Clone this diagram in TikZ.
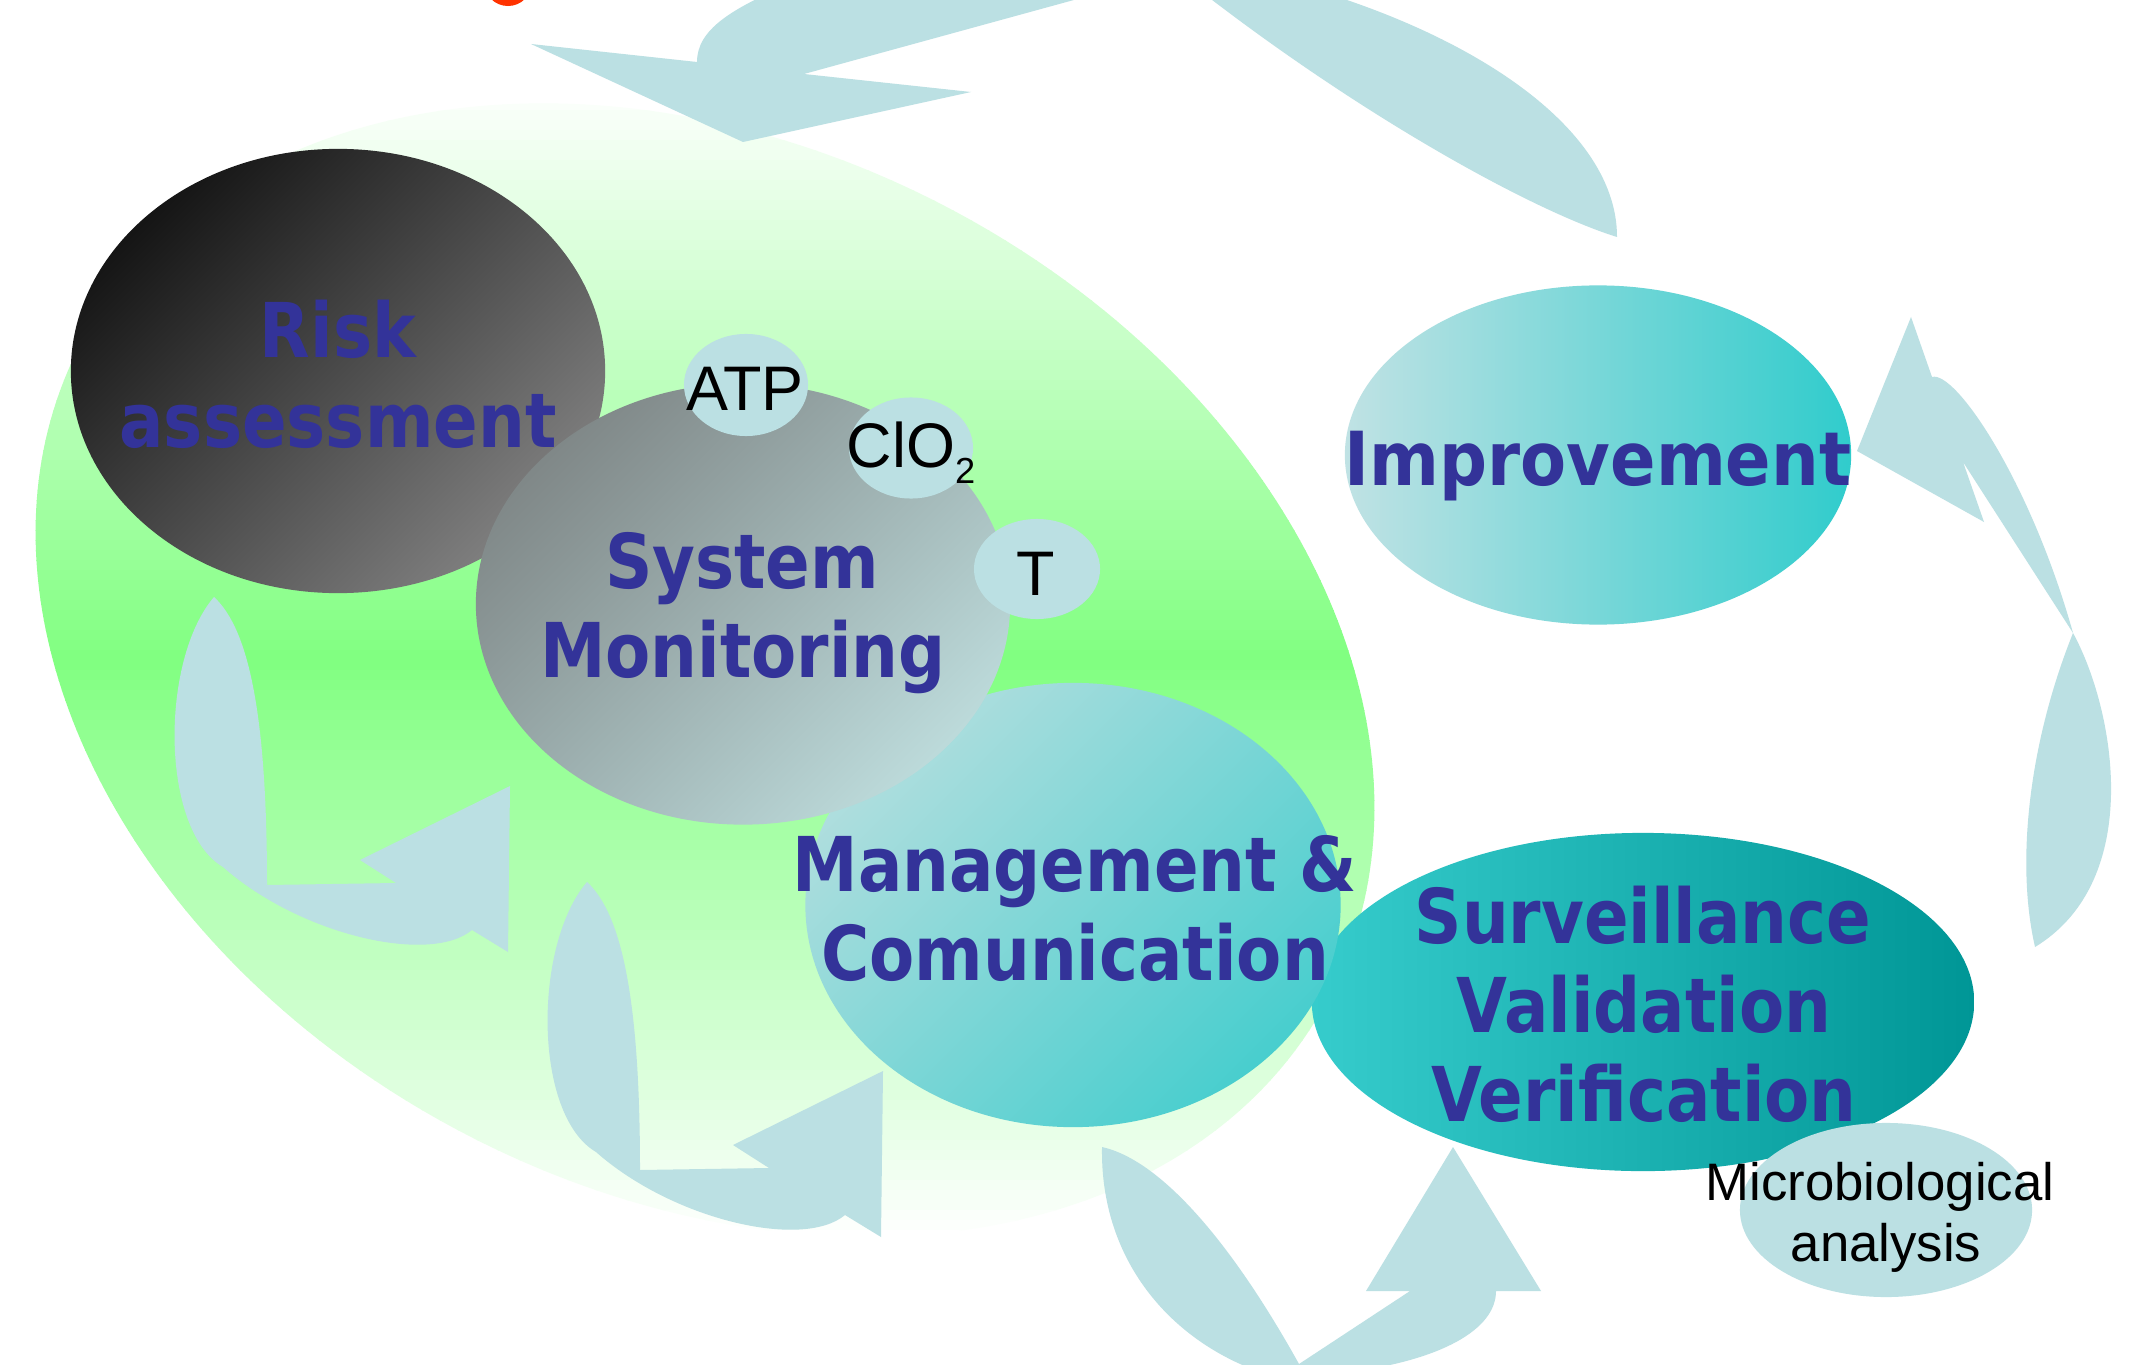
\documentclass[tikz,border=0pt]{standalone}
\usepackage{fontspec}
\usetikzlibrary{shapes.geometric}
\newfontfamily\lblfont[FakeStretch=0.87]{DejaVu Sans Bold}
\newfontfamily\impfont[FakeStretch=0.9]{DejaVu Sans Bold}
\newfontfamily\smfont{Liberation Sans}
\definecolor{arrowblue}{HTML}{BBE0E3}
\definecolor{txtblue}{HTML}{333399}
\definecolor{brightgreen}{HTML}{80FF80}
\definecolor{riskTL}{HTML}{151515}
\definecolor{riskBR}{HTML}{808080}
\definecolor{smTL}{HTML}{808888}
\definecolor{smBR}{HTML}{BCDADA}
\definecolor{mgTL}{HTML}{B0DEDE}
\definecolor{mgBR}{HTML}{48CECE}
\definecolor{impL}{HTML}{C0E2E4}
\definecolor{impR}{HTML}{30CCCC}
\definecolor{svL}{HTML}{36CCCC}
\definecolor{svR}{HTML}{009696}
\definecolor{reddot}{HTML}{FF3300}
\tikzset{
  arrowfill/.style={fill=arrowblue},
  blob/.style={ellipse, inner sep=0pt, draw=none},
  smallblob/.style={blob, fill=arrowblue},
  lbl/.style={font=\lblfont\fontsize{21.5}{25}\selectfont, text=txtblue, inner sep=0pt, anchor=base},
  implbl/.style={font=\impfont\fontsize{21.2}{25}\selectfont, text=txtblue, inner sep=0pt, anchor=base},
  sml/.style={font=\smfont\fontsize{17.9}{20}\selectfont, text=black, inner sep=0pt, anchor=base},
  micro/.style={font=\smfont\fontsize{15}{17}\selectfont, text=black, inner sep=0pt, anchor=base},
  pics/curlarrow/.style={code={
    \fill[arrowfill] (214,597) .. controls (250,630) and (267,720) .. (267,885)
      -- (396,883) -- (360,860) -- (510,786) -- (508,952) -- (472,930)
      .. controls (430,965) and (300,935) .. (223,867)
      .. controls (160,830) and (160,660) .. (214,597)
      -- cycle;
  }}
}
\begin{document}
\begin{tikzpicture}[x=0.01cm, y=-0.01cm]
\useasboundingbox (0,0) rectangle (2134,1364);
\clip (0,0) rectangle (2134,1364);
\fill[white] (0,0) rectangle (2134,1364);

% red blob at top edge
\fill[reddot] (508,-18) circle (0.24cm);

% green background ellipse with vertical white-green-white gradient
\begin{scope}
  \clip[rotate around={-27.7:(705,670)}] (705,670) ellipse (7.04cm and 5.22cm);
  \foreach \i in {0,...,118} {
    \pgfmathtruncatemacro\pc{max(0,100-abs(95+\i*10-670)/5.8)}
    \fill[brightgreen!\pc!white] (0,{80+\i*10}) rectangle (1420,{91+\i*10});
  }
\end{scope}

% top-left arrow
\fill[arrowfill] (531,44) -- (697,62)
  .. controls (697,30) and (730,8) .. (800,-20)
  -- (1165,-25) -- (804,74) -- (971,92) -- (743,142) -- cycle;

% top-right tail
\fill[arrowfill] (1260,-25) .. controls (1450,20) and (1617,120) .. (1617,237)
  .. controls (1530,210) and (1350,110) .. (1180,-25) -- cycle;

% right arrow (towards Improvement)
\fill[arrowfill] (1911,317) -- (1932,377)
  .. controls (1955,370) and (2030,480) .. (2073,633)
  .. controls (2115,710) and (2145,880) .. (2035,947)
  .. controls (2015,860) and (2030,740) .. (2073,633)
  -- (1963,462) -- (1984,522) -- (1857,451) -- cycle;

% bottom arrow (towards Surveillance)
\fill[arrowfill] (1299,1364) -- (1410,1291) -- (1366,1291) -- (1453,1147) -- (1541,1291) -- (1496,1291)
  .. controls (1496,1330) and (1440,1360) .. (1350,1372)
  -- (1260,1372)
  .. controls (1170,1340) and (1100,1260) .. (1102,1147)
  .. controls (1160,1160) and (1230,1240) .. (1299,1364)
  -- cycle;

% left arrows inside the green area
\pic (arrL1) at (0,0) {curlarrow};
\pic (arrL2) at (373,285) {curlarrow};

% main ellipses
\node[blob, minimum width=5.34cm, minimum height=4.44cm, top color=riskTL, bottom color=riskBR, shading angle=45] (risk) at (338,371) {};
\node[blob, minimum width=6.62cm, minimum height=3.38cm, left color=svL, right color=svR] (surv) at (1643,1002) {};
\node[blob, minimum width=5.35cm, minimum height=4.44cm, top color=mgTL, bottom color=mgBR, shading angle=45] (mgmt) at (1073,905) {};
\node[blob, minimum width=5.34cm, minimum height=4.41cm, top color=smTL, bottom color=smBR, shading angle=45] (sysmon) at (743,604) {};
\node[blob, minimum width=5.06cm, minimum height=3.39cm, left color=impL, right color=impR] (improv) at (1598,455) {};

% small ellipses
\node[smallblob, minimum width=1.24cm, minimum height=1.02cm] (atp) at (746,385) {};
\node[smallblob, minimum width=1.24cm, minimum height=1.01cm] (clo) at (911,448) {};
\node[smallblob, minimum width=1.26cm, minimum height=1.00cm] (tmp) at (1037,569) {};
\node[smallblob, minimum width=2.92cm, minimum height=1.74cm] (micro) at (1886,1210) {};

% labels
\node[lbl] (riskA) at (338,357) {Risk};
\node[lbl] (riskB) at (338,447) {assessment};
\node[lbl] (smA) at (742,588) {System};
\node[lbl] (smB) at (743,677) {Monitoring};
\node[lbl] (mgA) at (1075,891) {Management \&};
\node[lbl] (mgB) at (1075,980) {Comunication};
\node[implbl] (impT) at (1598,485) {Improvement};
\node[lbl] (svA) at (1643,943) {Surveillance};
\node[lbl] (svB) at (1644,1032) {Validation};
\node[lbl] (svC) at (1644,1121) {Verification};

\node[sml] (atpT) at (745,410) {ATP};
\node[sml] (cloT) at (911,467) {ClO\raisebox{-4.6pt}{\fontsize{10.3}{12}\selectfont 2}};
\node[sml] (tT) at (1036,595) {T};
\node[micro] (microA) at (1880,1200) {Microbiological};
\node[micro] (microB) at (1886,1261) {analysis};
\end{tikzpicture}
\end{document}
